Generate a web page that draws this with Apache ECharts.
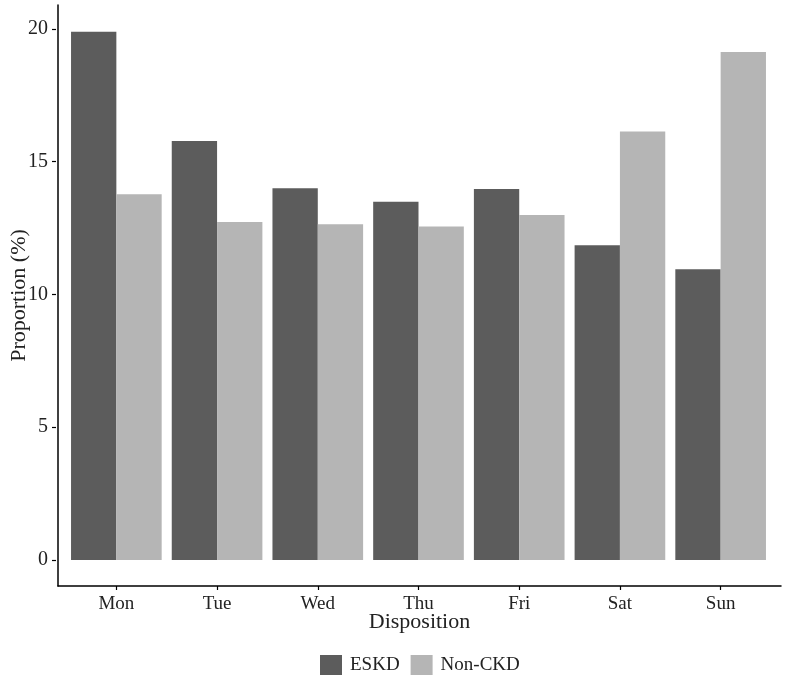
<html lang="en">
<head>
    <meta charset="UTF-8">
    <title>Proportion by day</title>
    <script type="text/javascript" src="https://cdn.jsdelivr.net/npm/echarts@6/dist/echarts.min.js"></script>
    <style>
        body { margin: 0; background: #fff; }
        #chart { width: 786px; height: 681px; }
    </style>
</head>
<body>
<div id="chart"></div>
<script>
    var days = ['Mon', 'Tue', 'Wed', 'Thu', 'Fri', 'Sat', 'Sun'];
    var eskd = [19.89, 15.78, 14.0, 13.49, 13.97, 11.85, 10.95];
    var nonCkd = [13.77, 12.73, 12.64, 12.56, 12.99, 16.14, 19.13];
    var yTicks = [0, 5, 10, 15, 20];

    var font = "'Liberation Serif', 'Times New Roman', serif";
    var mychart = echarts.init(document.getElementById('chart'));
    var option = {
        animation: false,
        backgroundColor: '#fff',
        textStyle: { fontFamily: font },
        legend: {
            left: 315,
            top: 650,
            itemWidth: 22,
            itemHeight: 20,
            itemGap: 11,
            icon: 'rect',
            textStyle: { fontFamily: font, fontSize: 19, color: '#222', padding: [0, 0, 0, 3] },
            data: ['ESKD', 'Non-CKD']
        },
        grid: [
            // bars, same height as the frame, narrower so bands fit ggplot's 0.6 padding
            { left: 66, right: 15, top: 5, bottom: 95 },
            // axis frame
            { left: 56, right: 5, top: 5, bottom: 95 }
        ],
        xAxis: [
            {
                gridIndex: 0,
                type: 'category',
                data: days,
                axisLine: { show: false, onZero: false },
                axisTick: { show: true, alignWithLabel: true, length: 4, lineStyle: { color: '#000', width: 1.2 } },
                axisLabel: { fontFamily: font, fontSize: 19, color: '#222', margin: 9 }
            },
            {
                gridIndex: 1,
                type: 'value',
                min: 0,
                max: 1,
                name: 'Disposition',
                nameLocation: 'middle',
                nameGap: 25,
                nameTextStyle: { fontFamily: font, fontSize: 22, color: '#222' },
                axisLine: { show: true, onZero: false, lineStyle: { color: '#000', width: 1.5 } },
                axisTick: { show: false },
                axisLabel: { show: false },
                splitLine: { show: false }
            }
        ],
        yAxis: [
            {
                gridIndex: 0,
                type: 'value',
                min: -0.98,
                max: 20.9,
                offset: 10,
                axisLine: { show: false },
                axisTick: { show: true, length: 4, lineStyle: { color: '#000', width: 1.2 }, customValues: yTicks },
                axisLabel: { fontFamily: font, fontSize: 20, color: '#222', margin: 8, customValues: yTicks },
                splitLine: { show: false }
            },
            {
                gridIndex: 1,
                type: 'value',
                min: 0,
                max: 1,
                name: 'Proportion (%)',
                nameLocation: 'middle',
                nameGap: 28,
                nameTextStyle: { fontFamily: font, fontSize: 22, color: '#222' },
                axisLine: { show: true, onZero: false, lineStyle: { color: '#000', width: 1.5 } },
                axisTick: { show: false },
                axisLabel: { show: false },
                splitLine: { show: false }
            }
        ],
        series: [
            {
                name: 'ESKD',
                type: 'bar',
                xAxisIndex: 0,
                yAxisIndex: 0,
                data: eskd,
                barGap: '0%',
                barCategoryGap: '10%',
                itemStyle: { color: '#5c5c5c' }
            },
            {
                name: 'Non-CKD',
                type: 'bar',
                xAxisIndex: 0,
                yAxisIndex: 0,
                data: nonCkd,
                barGap: '0%',
                barCategoryGap: '10%',
                itemStyle: { color: '#b5b5b5' }
            }
        ]
    };
    mychart.setOption(option);
</script>
</body>
</html>
